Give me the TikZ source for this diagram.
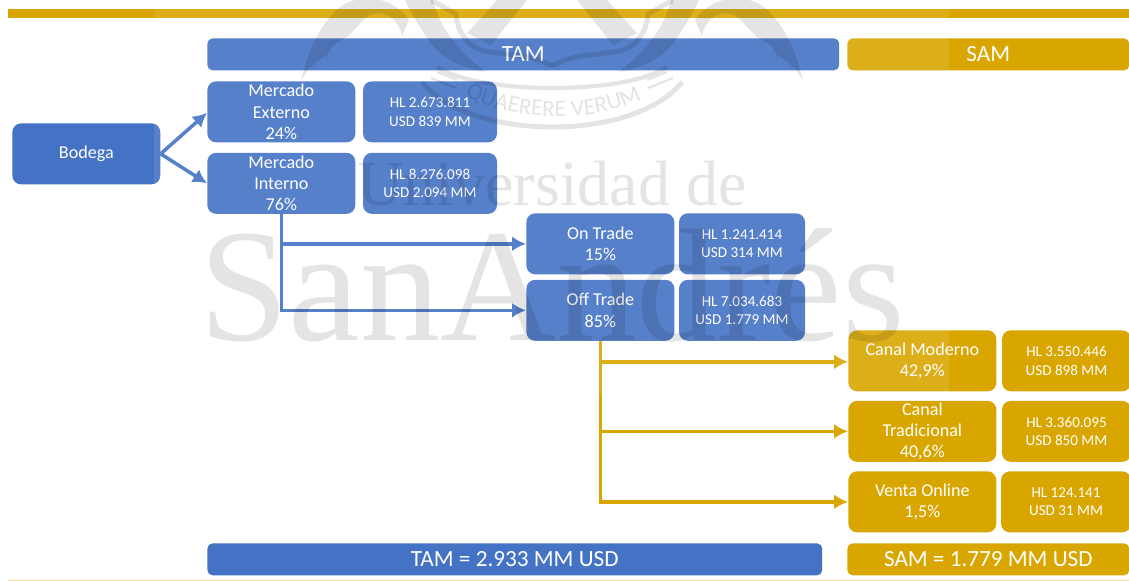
\documentclass[tikz,border=0pt]{standalone}
\usepackage{fontspec}
\setmainfont{Carlito}
\newfontfamily\crestfont{Liberation Serif}
\setsansfont{Carlito}
\usetikzlibrary{positioning,arrows.meta,decorations.text}
\definecolor{tamblue}{HTML}{4472C4}
\definecolor{samgold}{HTML}{D9A600}
\definecolor{markgray}{HTML}{E4E4E4}

\begin{document}
\begin{tikzpicture}[
  x=0.02cm, y=-0.02cm,
  box/.style={
    rounded corners=5pt, text=white, align=center,
    minimum height=1.22cm, inner sep=0pt,
    font=\fontsize{10.3}{12.2}\selectfont
  },
  namebox/.style={box, minimum width=2.96cm},
  valbox/.style={box, font=\fontsize{8.6}{10.4}\selectfont},
  barbox/.style={box, anchor=north west, rounded corners=3pt, minimum height=0.64cm,
    font=\fontsize{13.2}{15}\selectfont},
  blueline/.style={draw=tamblue, line width=2pt, -{Latex[length=2.8mm,width=3mm]}},
  goldline/.style={draw=samgold, line width=2pt, -{Latex[length=2.8mm,width=3mm]}},
  crest/.style={draw=markgray, line width=2.8pt},
  marktext/.style={text=markgray, inner sep=0pt, anchor=base}
]
\useasboundingbox (0,0) rectangle (1129,581);
\fill[white] (0,0) rectangle (1129,581);

% --- Rules ---
\fill[samgold] (8,9) rectangle (1129,18);
\fill[samgold!40] (8,579.5) rectangle (1129,581);

% --- Headers ---
\node[barbox, fill=tamblue, minimum width=12.64cm] (tamhead) at (207,38) {TAM};
\node[barbox, fill=samgold, minimum width=5.64cm] (samhead) at (847,38) {SAM};

% --- TAM boxes ---
\node[namebox, fill=tamblue, anchor=north west] (bodega) at (12,123) {Bodega};
\node[namebox, fill=tamblue, anchor=north west] (merext) at (207,81) {Mercado\\Externo\\24\%};
\node[namebox, fill=tamblue, anchor=north west] (merint) at (207,152.5) {Mercado\\Interno\\76\%};
\node[namebox, fill=tamblue, anchor=north west] (ontrade) at (526,213) {On Trade\\15\%};
\node[namebox, fill=tamblue, anchor=north west] (offtrade) at (526,279.5) {Off Trade\\85\%};

\node[valbox, fill=tamblue, minimum width=2.68cm, right=1.4mm of merext] (merextval) {HL 2.673.811\\USD 839 MM};
\node[valbox, fill=tamblue, minimum width=2.68cm, right=1.4mm of merint] (merintval) {HL 8.276.098\\USD 2.094 MM};
\node[valbox, fill=tamblue, minimum width=2.52cm, right=0.8mm of ontrade] (ontradeval) {HL 1.241.414\\USD 314 MM};
\node[valbox, fill=tamblue, minimum width=2.52cm, right=0.8mm of offtrade] (offtradeval) {HL 7.034.683\\USD 1.779 MM};

% --- SAM boxes ---
\node[namebox, fill=samgold, anchor=north west] (moderno) at (848,330) {Canal Moderno\\42,9\%};
\node[namebox, fill=samgold, anchor=north west] (tradicional) at (848,400.5) {Canal\\Tradicional\\40,6\%};
\node[namebox, fill=samgold, anchor=north west] (online) at (848,471) {Venta Online\\1,5\%};

\node[valbox, fill=samgold, minimum width=2.58cm, right=1mm of moderno] (modernoval) {HL 3.550.446\\USD 898 MM};
\node[valbox, fill=samgold, minimum width=2.58cm, right=1mm of tradicional] (tradicionalval) {HL 3.360.095\\USD 850 MM};
\node[valbox, fill=samgold, minimum width=2.60cm, right=0.8mm of online] (onlineval) {HL 124.141\\USD 31 MM};

% --- Totals ---
\node[barbox, fill=tamblue, minimum width=12.3cm] (tamtotal) at (207,543) {TAM = 2.933 MM USD};
\node[barbox, fill=samgold, minimum width=5.64cm] (samtotal) at (847,543) {SAM = 1.779 MM USD};

% --- Connectors ---
\draw[blueline] (bodega.east) -- ([yshift=-0.2mm]merext.west);
\draw[blueline] (bodega.east) -- (merint.west);
\draw[blueline] (merint.south) |- (ontrade.west);
\draw[blueline] (merint.south) |- (offtrade.west);
\draw[goldline] (offtrade.south) |- ([yshift=-0.2mm]moderno.west);
\draw[goldline] (offtrade.south) |- (tradicional.west);
\draw[goldline] (offtrade.south) |- (online.west);

% --- Pale band over the middle ---
\fill[white, opacity=.1] (154,0) rectangle (949,395);

% --- Watermark ---
\begin{scope}[blend mode=multiply]
  \node[marktext, font=\crestfont\fontsize{36.4}{36.4}\selectfont] (markuni) at (552,205) {Universidad de};
  \node[marktext, font=\crestfont\fontsize{91.5}{91.5}\selectfont] (marksan) at (552,340) {SanAndrés};
  \path[decorate, decoration={text along path, text align=center,
      text={|\sffamily\fontsize{13.4}{13.4}\selectfont\color{markgray}|QUAERERE VERUM}}]
    (460,92) .. controls (510,124) and (600,124) .. (647,96);
  \draw[crest] (422,82) .. controls (470,142) and (635,142) .. (682,82);
  \draw[crest, line width=2.4pt] (437,67) .. controls (480,95) and (625,95) .. (667,67);
  \foreach \s in {1,-1} {
    \begin{scope}[shift={(552,0)}, xscale=\s]
      % wing
      \fill[markgray] (251,80) .. controls (243,50) and (233,25) .. (213,8)
        .. controls (198,-5) and (163,-8) .. (143,20) -- (150,36)
        .. controls (153,15) and (178,3) .. (193,25) -- (205,37) -- (193,50) -- (205,37)
        .. controls (212,40) and (220,45) .. (225,55) -- (223,67) -- (225,55)
        .. controls (235,60) and (245,70) .. cycle;
      % band
      \fill[markgray] (147,0) .. controls (140,15) and (130,30) .. (125,38)
        .. controls (115,52) and (100,66) .. (67,72)
        .. controls (88,55) and (110,35) .. (119,0) -- cycle;
      % shield
      \draw[crest] (0,66) .. controls (25,52) and (50,56) .. (71,50)
        .. controls (85,46) and (95,30) .. (96,14) -- (121,0);
      % leg
      \fill[markgray] (25,0) -- (55,0) -- (85,33) -- (61,45) -- cycle;
      % ticks
      \draw[markgray, line width=1.2pt] (95,80) -- (115,72) (96,88) -- (121,78);
    \end{scope}
  }
\end{scope}

\end{tikzpicture}
\end{document}
